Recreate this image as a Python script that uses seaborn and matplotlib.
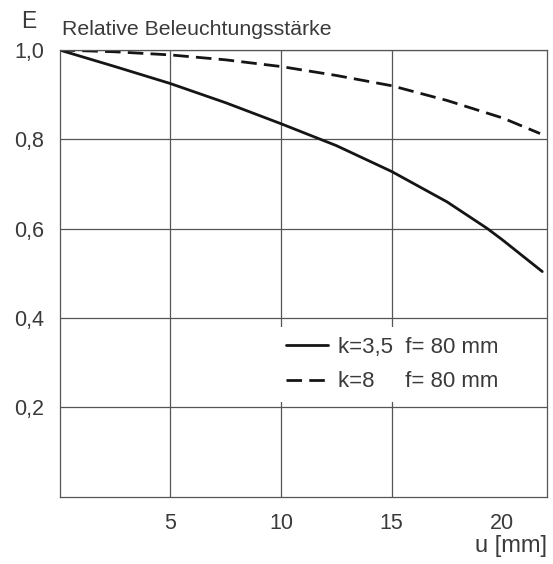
import matplotlib
matplotlib.use("Agg")
import matplotlib.pyplot as plt
import seaborn as sns
import pandas as pd

# ---- data ----
u_k35 = [0, 2.5, 5, 7.5, 10, 12.5, 15, 17.5, 19.3, 20, 21.8]
E_k35 = [1.0, 0.963, 0.925, 0.882, 0.835, 0.786, 0.728, 0.660, 0.601, 0.575, 0.504]
u_k8 = [0, 2.5, 5, 7.5, 10, 12.5, 15, 17.5, 20, 21.7]
E_k8 = [1.0, 0.996, 0.989, 0.978, 0.963, 0.943, 0.920, 0.887, 0.848, 0.813]
label_k35 = "k=3,5  f= 80 mm"
label_k8 = "k=8     f= 80 mm"
x_ticks = [5, 10, 15, 20]
x_ticklabels = ["5", "10", "15", "20"]
y_ticks = [0.2, 0.4, 0.6, 0.8, 1.0]
y_ticklabels = ["0,2", "0,4", "0,6", "0,8", "1,0"]

df = pd.concat([
    pd.DataFrame({"u": u_k35, "E": E_k35, "Kurve": label_k35}),
    pd.DataFrame({"u": u_k8, "E": E_k8, "Kurve": label_k8}),
], ignore_index=True)

sns.set_style("white")
plt.rcParams["font.family"] = ["Liberation Sans", "DejaVu Sans"]
TXT = "#3a3a3a"
GRID = "#555555"

fig = plt.figure(figsize=(5.53, 5.64), dpi=100)
ax = fig.add_axes([59.5 / 553, 1 - 496.7 / 564, 487.2 / 553, 446.7 / 564])

sns.lineplot(data=df, x="u", y="E", style="Kurve",
             dashes={label_k35: "", label_k8: (5.6, 2.6)},
             color="#151515", linewidth=2.0, ax=ax, legend=True, sort=False)

ax.set_xlim(0, 22)
ax.set_ylim(0, 1.0)
ax.set_xticks(x_ticks)
ax.set_xticklabels(x_ticklabels)
ax.set_yticks(y_ticks)
ax.set_yticklabels(y_ticklabels)
ax.tick_params(axis="both", length=0, labelsize=15.5, colors=TXT)
ax.tick_params(axis="x", pad=12)
ax.tick_params(axis="y", pad=11)
ax.set_xlabel("")
ax.set_ylabel("")

ax.grid(True, color=GRID, linewidth=0.9)
ax.set_axisbelow(True)
# no vertical grid line at u = 20
ax.xaxis.get_gridlines()[3].set_visible(False)
for sp in ax.spines.values():
    sp.set_visible(True)
    sp.set_color(GRID)
    sp.set_linewidth(0.9)

handles, labels = ax.get_legend_handles_labels()
leg = ax.legend(handles, labels, loc="center left",
                bbox_to_anchor=((276 - 59.5) / 487.2, 0.296),
                frameon=True, facecolor="white", edgecolor="none",
                framealpha=1.0, fontsize=16, handlelength=1.9,
                handletextpad=0.45, labelspacing=0.62, borderpad=0.45,
                borderaxespad=0)
for t in leg.get_texts():
    t.set_color(TXT)
leg.get_frame().set_boxstyle("square", pad=0)

fig.text(21.5 / 553, 1 - 28.3 / 564, "E", fontsize=16.5, color=TXT,
         ha="left", va="baseline")
fig.text(62 / 553, 1 - 35 / 564, "Relative Beleuchtungsstärke", fontsize=15.3,
         color=TXT, ha="left", va="baseline")
fig.text(547 / 553, 1 - 552 / 564, "u [mm]", fontsize=17, color=TXT,
         ha="right", va="baseline")

fig.savefig("out.png", dpi=100, facecolor="white")
